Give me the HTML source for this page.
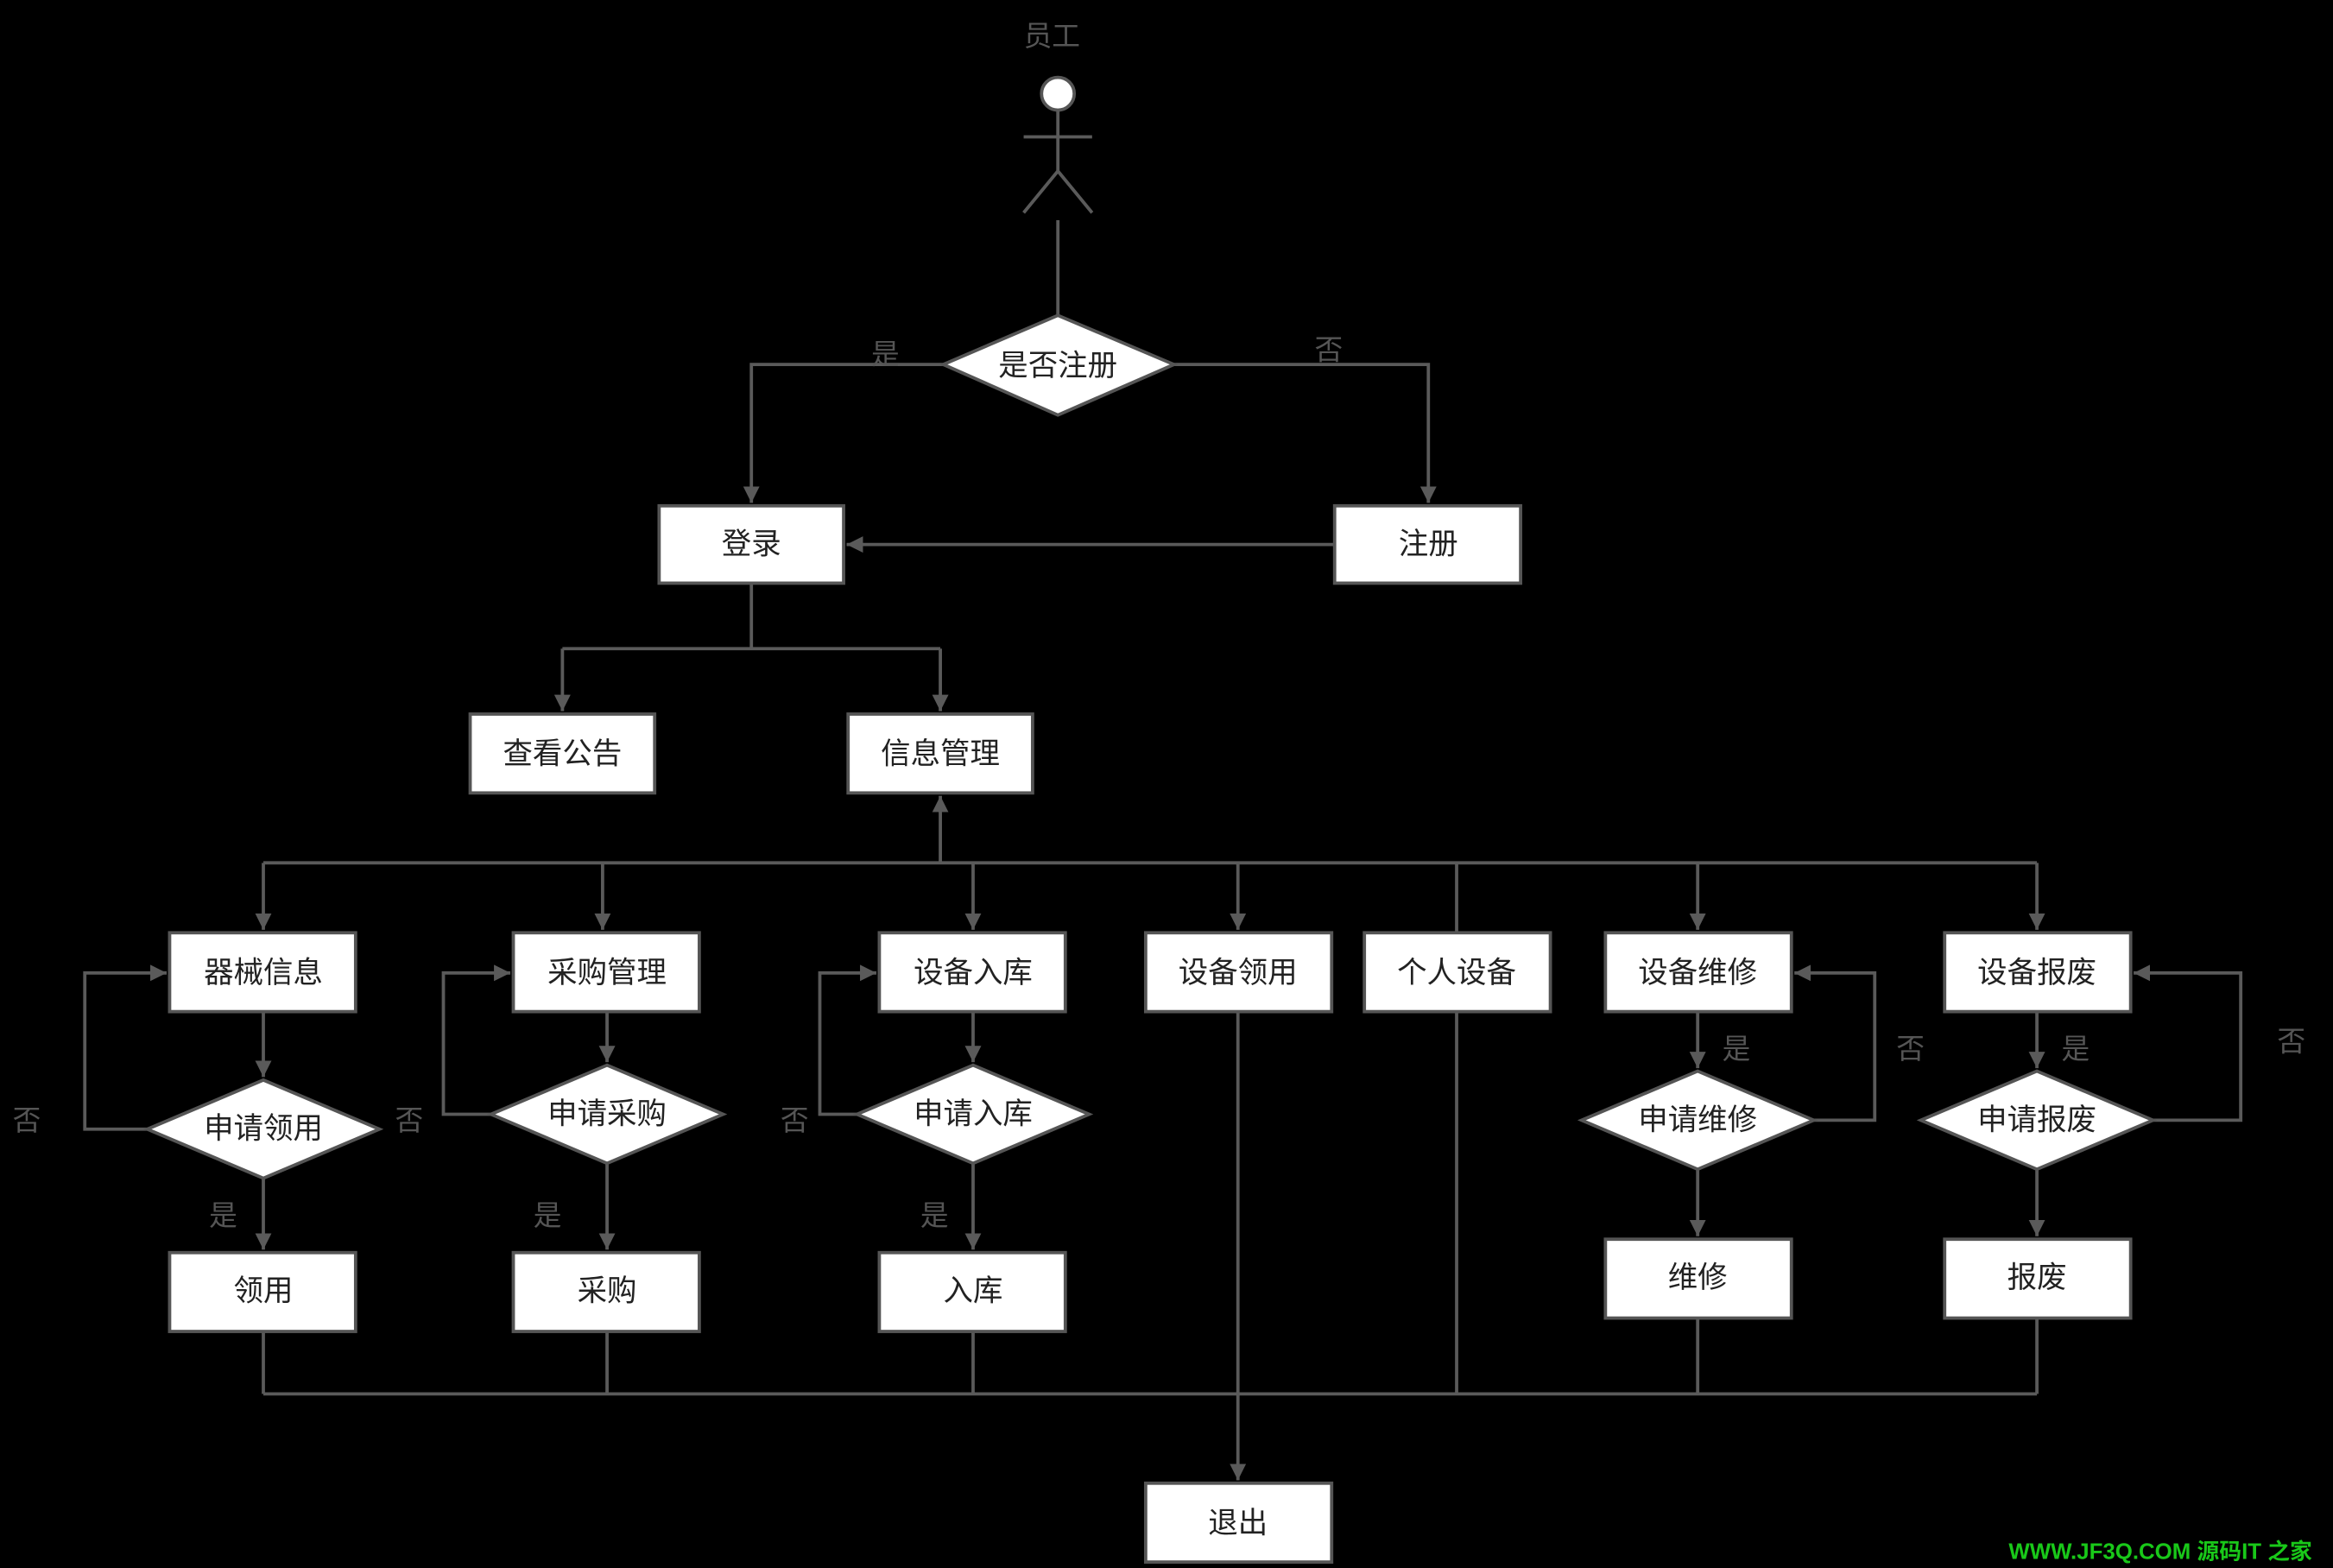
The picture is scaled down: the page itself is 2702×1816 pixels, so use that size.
<!DOCTYPE html>
<html><head><meta charset="utf-8"><style>
html,body{margin:0;padding:0;background:#000;width:2702px;height:1816px;overflow:hidden}
svg{display:block}
text{font-family:"Liberation Sans","Noto Sans CJK SC",sans-serif}
</style></head><body>
<svg width="2702" height="1816" viewBox="0 0 1568 1054" preserveAspectRatio="none" xmlns="http://www.w3.org/2000/svg">
<defs><marker id="a" viewBox="0 0 10 10" refX="10" refY="5" markerWidth="5" markerHeight="5" orient="auto"><path d="M0,0 L10,5 L0,10 z" fill="#5a5a5a"/></marker></defs>
<rect width="1568" height="1054" fill="#000"/>
<g stroke="#5a5a5a" stroke-width="2.2" fill="none">
<!-- actor -->
<circle cx="711" cy="63" r="11" fill="#fff" stroke="#555"/>
<line x1="711" y1="74" x2="711" y2="115"/>
<line x1="688" y1="92" x2="734" y2="92"/>
<line x1="711" y1="115" x2="688" y2="143"/>
<line x1="711" y1="115" x2="734" y2="143"/>
<line x1="711" y1="148" x2="711" y2="212"/>
<polyline points="634,245 505,245 505,338" marker-end="url(#a)"/>
<polyline points="789,245 960,245 960,338" marker-end="url(#a)"/>
<line x1="897" y1="366" x2="569" y2="366" marker-end="url(#a)"/>
<polyline points="505,392 505,436"/>
<polyline points="378,436 632,436"/>
<line x1="378" y1="436" x2="378" y2="478" marker-end="url(#a)"/>
<line x1="632" y1="436" x2="632" y2="478" marker-end="url(#a)"/>
<line x1="177" y1="580" x2="1369" y2="580"/>
<line x1="632" y1="580" x2="632" y2="535" marker-end="url(#a)"/>
<line x1="177" y1="580" x2="177" y2="625" marker-end="url(#a)"/>
<line x1="405" y1="580" x2="405" y2="625" marker-end="url(#a)"/>
<line x1="654" y1="580" x2="654" y2="625" marker-end="url(#a)"/>
<line x1="832" y1="580" x2="832" y2="625" marker-end="url(#a)"/>
<line x1="979" y1="580" x2="979" y2="627"/>
<line x1="1141" y1="580" x2="1141" y2="625" marker-end="url(#a)"/>
<line x1="1369" y1="580" x2="1369" y2="625" marker-end="url(#a)"/>
<!-- box to diamond -->
<line x1="177" y1="680" x2="177" y2="724" marker-end="url(#a)"/>
<line x1="408" y1="680" x2="408" y2="714" marker-end="url(#a)"/>
<line x1="654" y1="680" x2="654" y2="714" marker-end="url(#a)"/>
<line x1="1141" y1="680" x2="1141" y2="718" marker-end="url(#a)"/>
<line x1="1369" y1="680" x2="1369" y2="718" marker-end="url(#a)"/>
<!-- diamond to result -->
<line x1="177" y1="792" x2="177" y2="840" marker-end="url(#a)"/>
<line x1="408" y1="782" x2="408" y2="840" marker-end="url(#a)"/>
<line x1="654" y1="782" x2="654" y2="840" marker-end="url(#a)"/>
<line x1="1141" y1="786" x2="1141" y2="831" marker-end="url(#a)"/>
<line x1="1369" y1="786" x2="1369" y2="831" marker-end="url(#a)"/>
<!-- loops -->
<polyline points="99,759 57,759 57,654 112,654" marker-end="url(#a)"/>
<polyline points="330,749 298,749 298,654 343,654" marker-end="url(#a)"/>
<polyline points="576,749 551,749 551,654 589,654" marker-end="url(#a)"/>
<polyline points="1219,753 1260,753 1260,654 1206,654" marker-end="url(#a)"/>
<polyline points="1447,753 1506,753 1506,654 1434,654" marker-end="url(#a)"/>
<!-- bottom -->
<line x1="177" y1="937" x2="1369" y2="937"/>
<line x1="177" y1="895" x2="177" y2="937"/>
<line x1="408" y1="895" x2="408" y2="937"/>
<line x1="654" y1="895" x2="654" y2="937"/>
<line x1="1141" y1="886" x2="1141" y2="937"/>
<line x1="1369" y1="886" x2="1369" y2="937"/>
<line x1="979" y1="680" x2="979" y2="937"/>
<line x1="832" y1="680" x2="832" y2="995" marker-end="url(#a)"/>
</g>
<g fill="#fff" stroke="#555" stroke-width="2.2">
<polygon points="634,245 711,212 789,245 711,279"/>
<rect x="443" y="340" width="124" height="52"/>
<rect x="897" y="340" width="125" height="52"/>
<rect x="316" y="480" width="124" height="53"/>
<rect x="570" y="480" width="124" height="53"/>
<rect x="114" y="627" width="125" height="53"/>
<rect x="345" y="627" width="125" height="53"/>
<rect x="591" y="627" width="125" height="53"/>
<rect x="770" y="627" width="125" height="53"/>
<rect x="917" y="627" width="125" height="53"/>
<rect x="1079" y="627" width="125" height="53"/>
<rect x="1307" y="627" width="125" height="53"/>
<polygon points="99,759 177,726 255,759 177,792"/>
<polygon points="330,749 408,716 486,749 408,782"/>
<polygon points="576,749 654,716 732,749 654,782"/>
<polygon points="1063,753 1141,720 1219,753 1141,786"/>
<polygon points="1291,753 1369,720 1447,753 1369,786"/>
<rect x="114" y="842" width="125" height="53"/>
<rect x="345" y="842" width="125" height="53"/>
<rect x="591" y="842" width="125" height="53"/>
<rect x="1079" y="833" width="125" height="53"/>
<rect x="1307" y="833" width="125" height="53"/>
<rect x="770" y="997" width="125" height="53"/>
</g>
<g fill="#222" font-size="20" text-anchor="middle" dominant-baseline="central">
<text x="711" y="246">是否注册</text>
<text x="505" y="366">登录</text>
<text x="960" y="366">注册</text>
<text x="378" y="507">查看公告</text>
<text x="632" y="507">信息管理</text>
<text x="177" y="654">器械信息</text>
<text x="408" y="654">采购管理</text>
<text x="654" y="654">设备入库</text>
<text x="832" y="654">设备领用</text>
<text x="979" y="654">个人设备</text>
<text x="1141" y="654">设备维修</text>
<text x="1369" y="654">设备报废</text>
<text x="177" y="759">申请领用</text>
<text x="408" y="749">申请采购</text>
<text x="654" y="749">申请入库</text>
<text x="1141" y="753">申请维修</text>
<text x="1369" y="753">申请报废</text>
<text x="177" y="868">领用</text>
<text x="408" y="868">采购</text>
<text x="654" y="868">入库</text>
<text x="1141" y="859">维修</text>
<text x="1369" y="859">报废</text>
<text x="832" y="1024">退出</text>
</g>
<g fill="#555" font-size="19" text-anchor="middle" dominant-baseline="central">
<text x="707" y="24">员工</text>
<text x="595" y="238">是</text>
<text x="893" y="235">否</text>
<text x="18" y="753">否</text>
<text x="275" y="753">否</text>
<text x="534" y="753">否</text>
<text x="150" y="817">是</text>
<text x="368" y="817">是</text>
<text x="628" y="817">是</text>
<text x="1167" y="705">是</text>
<text x="1395" y="705">是</text>
<text x="1284" y="705">否</text>
<text x="1540" y="700">否</text>
</g>
<text x="1350" y="1048" fill="#19c819" font-size="15" font-weight="bold">WWW.JF3Q.COM 源码IT 之家</text>
</svg>
</body></html>
